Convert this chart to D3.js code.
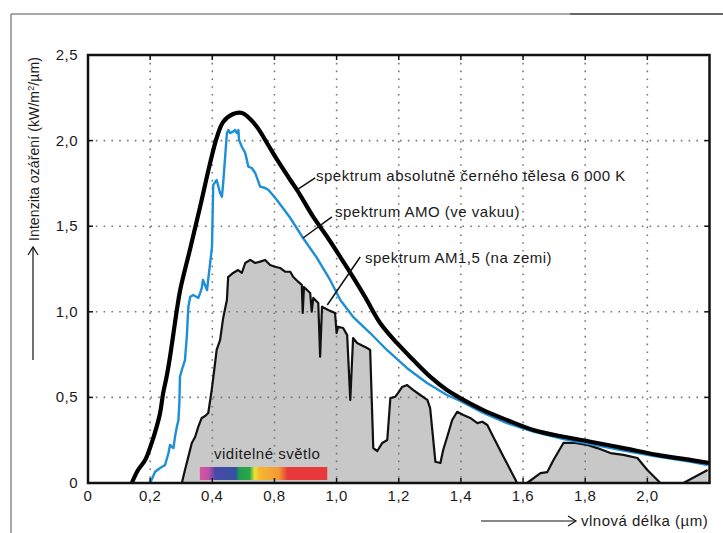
<!DOCTYPE html>
<html>
<head>
<meta charset="utf-8">
<script src="https://cdn.jsdelivr.net/npm/d3@7"></script>
<style>
    body { margin: 0; background: #fff; }
    text { font-family: "Liberation Sans", Arial, sans-serif; fill: #1a1a1a; }
</style>
</head>
<body>
<div id="chart"></div>
<script>
// spektrum absolutně černého tělesa 6000 K  [vlnová délka µm, kW/m2/µm]
var blackBody = [
    [0.141, 0], [0.161, 0.076], [0.184, 0.134], [0.205, 0.234], [0.221, 0.329], [0.232, 0.409],
    [0.242, 0.526], [0.253, 0.621], [0.264, 0.738], [0.275, 0.874], [0.286, 1.011], [0.297, 1.130],
    [0.329, 1.370], [0.361, 1.615], [0.393, 1.869], [0.415, 2.021], [0.435, 2.109], [0.467, 2.155],
    [0.496, 2.161], [0.515, 2.138], [0.544, 2.079], [0.576, 1.986], [0.609, 1.887], [0.651, 1.770],
    [0.673, 1.711], [0.725, 1.554], [0.770, 1.437], [0.812, 1.320], [0.853, 1.203], [0.892, 1.086],
    [0.940, 0.935], [0.994, 0.818], [1.047, 0.718], [1.101, 0.621], [1.155, 0.543], [1.198, 0.496],
    [1.272, 0.426], [1.348, 0.368], [1.433, 0.310], [1.530, 0.270], [1.617, 0.241], [1.723, 0.204],
    [1.832, 0.164], [1.941, 0.134], [2.0, 0.117]
];

// spektrum AM0 (ve vakuu)
var am0 = [
    [0.200, 0], [0.216, 0.066], [0.232, 0.088], [0.248, 0.105], [0.259, 0.175], [0.264, 0.222],
    [0.275, 0.204], [0.280, 0.270], [0.286, 0.329], [0.291, 0.368], [0.294, 0.467], [0.296, 0.621],
    [0.302, 0.660], [0.312, 0.718], [0.318, 0.855], [0.323, 1.030], [0.329, 1.088], [0.339, 1.098],
    [0.355, 1.081], [0.361, 1.110], [0.366, 1.139], [0.370, 1.186], [0.383, 1.127], [0.399, 1.379],
    [0.403, 1.741], [0.414, 1.770], [0.425, 1.694], [0.431, 1.672], [0.435, 1.752], [0.447, 2.044],
    [0.452, 2.062], [0.457, 2.044], [0.467, 2.052], [0.473, 2.062], [0.479, 2.044], [0.484, 2.062],
    [0.486, 2.004], [0.495, 1.964], [0.506, 1.928], [0.516, 1.848], [0.527, 1.840], [0.538, 1.811],
    [0.554, 1.731], [0.570, 1.723], [0.581, 1.711], [0.608, 1.653], [0.651, 1.548], [0.692, 1.431],
    [0.737, 1.314], [0.779, 1.186], [0.812, 1.069], [0.853, 0.971], [0.908, 0.876], [0.962, 0.777],
    [1.026, 0.672], [1.091, 0.584], [1.155, 0.514], [1.198, 0.479], [1.272, 0.409], [1.348, 0.350],
    [1.433, 0.300], [1.530, 0.257], [1.617, 0.228], [1.723, 0.189], [1.832, 0.154], [1.941, 0.124],
    [1.994, 0.105]
];

// spektrum AM1,5 (na zemi)
var am15 = [
    [0.302, 0], [0.312, 0.076], [0.323, 0.154], [0.334, 0.234], [0.345, 0.270], [0.355, 0.329],
    [0.366, 0.380], [0.377, 0.391], [0.387, 0.409], [0.398, 0.543], [0.409, 0.701], [0.414, 0.777],
    [0.425, 0.835], [0.435, 0.964], [0.447, 1.069], [0.451, 1.203], [0.467, 1.227], [0.483, 1.244],
    [0.495, 1.227], [0.506, 1.285], [0.522, 1.303], [0.538, 1.285], [0.554, 1.293], [0.570, 1.303],
    [0.586, 1.273], [0.602, 1.263], [0.618, 1.256], [0.634, 1.234], [0.651, 1.234], [0.660, 1.205],
    [0.676, 1.176], [0.688, 1.157], [0.691, 0.993], [0.695, 1.145], [0.715, 1.110], [0.720, 1.001],
    [0.725, 1.081], [0.741, 1.051], [0.747, 0.738], [0.753, 1.030], [0.773, 1.011], [0.795, 0.993],
    [0.800, 0.876], [0.805, 0.913], [0.821, 0.905], [0.834, 0.864], [0.844, 0.485], [0.853, 0.847],
    [0.866, 0.818], [0.898, 0.789], [0.908, 0.777], [0.918, 0.204], [0.931, 0.187], [0.947, 0.234],
    [0.963, 0.251], [0.973, 0.496], [0.989, 0.504], [0.998, 0.526], [1.011, 0.561], [1.027, 0.572],
    [1.047, 0.543], [1.069, 0.514], [1.092, 0.485], [1.101, 0.438], [1.118, 0.124], [1.134, 0.117],
    [1.143, 0.193], [1.156, 0.270], [1.172, 0.368], [1.188, 0.416], [1.208, 0.397], [1.230, 0.380],
    [1.253, 0.350], [1.269, 0.358], [1.285, 0.339], [1.304, 0.270], [1.337, 0.154], [1.381, 0],
    [1.413, 0], [1.456, 0.058], [1.478, 0.064], [1.498, 0.134], [1.530, 0.234], [1.562, 0.235],
    [1.607, 0.222], [1.639, 0.204], [1.681, 0.175], [1.723, 0.164], [1.768, 0.146], [1.800, 0.076],
    [1.842, 0], [1.916, 0], [1.994, 0.076]
];

// popisky os (tak jak jsou v originálu)
var xTickValues = [0, 0.2, 0.4, 0.6, 0.8, 1.0, 1.2, 1.4, 1.6, 1.8];
var xTickLabels = ["0", "0,2", "0,4", "0,8", "1,0", "1,2", "1,4", "1,6", "1,8", "2,0"];
var yTickValues = [0, 0.5, 1.0, 1.5, 2.0, 2.5];
var yTickLabels = ["0", "0,5", "1,0", "1,5", "2,0", "2,5"];

// viditelné světlo: rozsah pruhu (µm)
var visibleRange = [0.36, 0.77];

var width = 723, height = 533;
var plotLeft = 88, plotRight = 709.5, plotTop = 55, plotBottom = 483;
var fontSize = 15, spacing = 0.5;

var svg = d3.select("#chart")
    .append("svg")
    .attr("width", width)
    .attr("height", height);

var x = d3.scaleLinear().domain([0, 2.0]).range([plotLeft, plotRight]);
var y = d3.scaleLinear().domain([0, 2.5]).range([plotBottom, plotTop]);

var line = d3.line()
    .x(function (d) { return x(d[0]); })
    .y(function (d) { return y(d[1]); });

var smoothLine = d3.line()
    .curve(d3.curveCatmullRom.alpha(0.5))
    .x(function (d) { return x(d[0]); })
    .y(function (d) { return y(d[1]); });

var area = d3.area()
    .x(function (d) { return x(d[0]); })
    .y0(y(0))
    .y1(function (d) { return y(d[1]); });

// vnější rámeček stránky
function drawPageFrame() {
    svg.append("line").attr("x1", 11).attr("y1", 14).attr("x2", 570).attr("y2", 14)
        .attr("stroke", "#8a8a8a").attr("stroke-width", 1.5);
    svg.append("line").attr("x1", 570).attr("y1", 14).attr("x2", width).attr("y2", 14)
        .attr("stroke", "#333").attr("stroke-width", 1.5);
    svg.append("line").attr("x1", 11).attr("y1", 14).attr("x2", 11).attr("y2", height)
        .attr("stroke", "#8a8a8a").attr("stroke-width", 1.5);
}

// šedá plocha AM1,5
function drawArea() {
    svg.append("path")
        .datum(am15)
        .attr("d", area)
        .attr("fill", "#c8c8c8");
}

// tečkovaná mřížka
function drawGrid() {
    var g = svg.append("g");
    xTickValues.slice(1).forEach(function (v) {
        g.append("line")
            .attr("x1", x(v)).attr("x2", x(v))
            .attr("y1", plotTop).attr("y2", plotBottom)
            .attr("stroke", "#777").attr("stroke-width", 1.6)
            .attr("stroke-dasharray", "1.6,6.2");
    });
    yTickValues.slice(1, -1).forEach(function (v) {
        g.append("line")
            .attr("x1", plotLeft).attr("x2", plotRight)
            .attr("y1", y(v)).attr("y2", y(v))
            .attr("stroke", "#777").attr("stroke-width", 1.6)
            .attr("stroke-dasharray", "1.6,6.2");
    });
}

// viditelné světlo
function drawVisible() {
    var grad = svg.append("defs").append("linearGradient")
        .attr("id", "rainbow");
    var stops = [
        [0, "#d9559f"], [0.07, "#c04fa6"], [0.12, "#4a49a8"], [0.28, "#3452a2"],
        [0.31, "#1f9e4e"], [0.39, "#2aa64a"], [0.43, "#ece43a"], [0.47, "#f7b531"],
        [0.62, "#f39a32"], [0.69, "#e8383a"], [1, "#e8383a"]
    ];
    stops.forEach(function (s) {
        grad.append("stop").attr("offset", s[0]).attr("stop-color", s[1]);
    });
    svg.append("rect")
        .attr("x", x(visibleRange[0]))
        .attr("y", 467)
        .attr("width", x(visibleRange[1]) - x(visibleRange[0]))
        .attr("height", 13)
        .attr("fill", "url(#rainbow)");
    svg.append("text")
        .attr("x", 214).attr("y", 459)
        .attr("font-size", fontSize)
        .attr("letter-spacing", spacing)
        .text("viditelné světlo");
}

// křivky
function drawCurves() {
    svg.append("path").datum(am15).attr("d", line)
        .attr("fill", "none").attr("stroke", "#111").attr("stroke-width", 2.2)
        .attr("stroke-linejoin", "round");
    svg.append("path").datum(am0).attr("d", line)
        .attr("fill", "none").attr("stroke", "#1c8fd6").attr("stroke-width", 2.4)
        .attr("stroke-linejoin", "round");
    svg.append("path").datum(blackBody).attr("d", smoothLine)
        .attr("fill", "none").attr("stroke", "#000").attr("stroke-width", 4.2)
        .attr("stroke-linejoin", "round");
}

// popisky křivek s odkazovými čarami
function drawLabels() {
    var notes = [
        { from: [0.676, 1.717], to: [0.731, 1.782], tx: 316, ty: 181, text: "spektrum absolutně černého tělesa 6 000 K" },
        { from: [0.692, 1.431], to: [0.785, 1.555], tx: 335, ty: 217, text: "spektrum AMO (ve vakuu)" },
        { from: [0.770, 1.040], to: [0.876, 1.320], tx: 365, ty: 263, text: "spektrum AM1,5 (na zemi)" }
    ];
    notes.forEach(function (n) {
        svg.append("line")
            .attr("x1", x(n.from[0])).attr("y1", y(n.from[1]))
            .attr("x2", x(n.to[0])).attr("y2", y(n.to[1]))
            .attr("stroke", "#111").attr("stroke-width", 1.5);
        svg.append("text")
            .attr("x", n.tx).attr("y", n.ty)
            .attr("font-size", fontSize)
            .attr("letter-spacing", spacing)
            .text(n.text);
    });
}

// rámeček grafu, značky a popisky os
function drawAxes() {
    var g = svg.append("g");
    g.append("rect")
        .attr("x", plotLeft).attr("y", plotTop)
        .attr("width", plotRight - plotLeft).attr("height", plotBottom - plotTop)
        .attr("fill", "none").attr("stroke", "#111").attr("stroke-width", 2.5);

    xTickValues.forEach(function (v, i) {
        g.append("line").attr("x1", x(v)).attr("x2", x(v)).attr("y1", plotBottom).attr("y2", plotBottom - 5)
            .attr("stroke", "#111").attr("stroke-width", 1.5);
        g.append("line").attr("x1", x(v)).attr("x2", x(v)).attr("y1", plotTop).attr("y2", plotTop + 5)
            .attr("stroke", "#111").attr("stroke-width", 1.5);
        g.append("text")
            .attr("x", x(v)).attr("y", 501)
            .attr("text-anchor", "middle")
            .attr("font-size", fontSize)
            .attr("letter-spacing", spacing)
            .text(xTickLabels[i]);
    });

    yTickValues.forEach(function (v, i) {
        g.append("line").attr("x1", plotLeft).attr("x2", plotLeft + 5).attr("y1", y(v)).attr("y2", y(v))
            .attr("stroke", "#111").attr("stroke-width", 1.5);
        g.append("line").attr("x1", plotRight).attr("x2", plotRight - 5).attr("y1", y(v)).attr("y2", y(v))
            .attr("stroke", "#111").attr("stroke-width", 1.5);
        g.append("text")
            .attr("x", 78).attr("y", y(v) + 5)
            .attr("text-anchor", "end")
            .attr("font-size", fontSize)
            .attr("letter-spacing", spacing)
            .text(yTickLabels[i]);
    });

    // osa x: šipka + popis
    g.append("line").attr("x1", 481).attr("y1", 521).attr("x2", 575).attr("y2", 521)
        .attr("stroke", "#111").attr("stroke-width", 1.2);
    g.append("path").attr("d", "M568,516 L576,521 L568,526")
        .attr("fill", "none").attr("stroke", "#111").attr("stroke-width", 1.2);
    g.append("text").attr("x", 581).attr("y", 526)
        .attr("font-size", fontSize)
        .attr("letter-spacing", spacing)
        .text("vlnová délka (µm)");

    // osa y: šipka + popis
    g.append("line").attr("x1", 33).attr("y1", 360).attr("x2", 33).attr("y2", 248)
        .attr("stroke", "#111").attr("stroke-width", 1.2);
    g.append("path").attr("d", "M28,255 L33,247 L38,255")
        .attr("fill", "none").attr("stroke", "#111").attr("stroke-width", 1.2);
    var t = g.append("text")
        .attr("transform", "translate(39,241) rotate(-90)")
        .attr("font-size", 14)
        .attr("letter-spacing", 0.1);
    t.append("tspan").text("Intenzita ozáření (kW/m");
    t.append("tspan").attr("font-size", 9).attr("dy", -5).text("2");
    t.append("tspan").attr("dy", 5).text("/µm)");
}

function init() {
    drawPageFrame();
    drawArea();
    drawGrid();
    drawVisible();
    drawCurves();
    drawLabels();
    drawAxes();
}

init();
</script>
</body>
</html>
